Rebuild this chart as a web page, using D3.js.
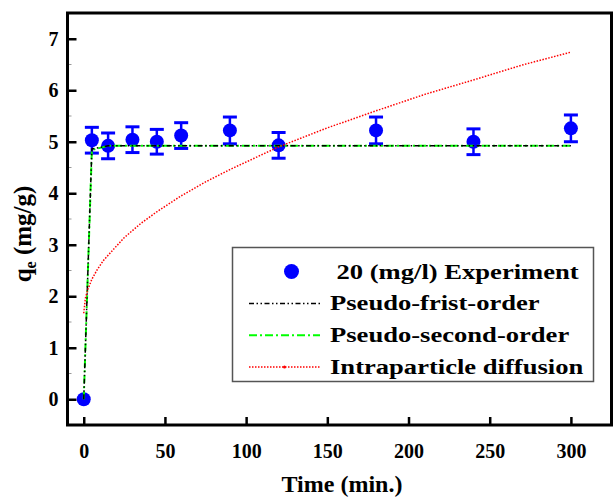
<!DOCTYPE html>
<html>
<head>
<meta charset="utf-8">
<script src="https://cdn.jsdelivr.net/npm/d3@7"></script>
<style>
  body { margin: 0; background: #fff; }
  text { font-family: "Liberation Serif", "Times New Roman", serif; font-weight: bold; fill: #000; }
</style>
</head>
<body>
<div id="chart"></div>
<script>
// frame size
const FRAME_WIDTH = 613;
const FRAME_HEIGHT = 497;
const PLOT = {left: 67.5, right: 611.5, top: 13, bottom: 425};

// experiment data
const TIMES = [0, 5, 15, 30, 45, 60, 90, 120, 180, 240, 300];
const QE_EXP = [0, 5.03, 4.92, 5.04, 5.0, 5.12, 5.22, 4.93, 5.22, 5.0, 5.26];
const QE_ERR = [0, 0.25, 0.25, 0.25, 0.24, 0.25, 0.26, 0.25, 0.26, 0.25, 0.26];

// model fits
const FIRST_ORDER = [0, 4.86, 4.92, 4.92, 4.92, 4.92, 4.92, 4.92, 4.92, 4.92, 4.92];
const SECOND_ORDER = [0, 4.84, 4.92, 4.92, 4.92, 4.92, 4.92, 4.92, 4.92, 4.92, 4.92];
const DIFF_TIMES = [0, 1, 2.5, 5, 8, 12, 18, 25, 35, 45, 60, 75, 90, 105, 120, 150, 180, 210, 240, 270, 300];
const DIFF_QE = [1.67, 1.96, 2.13, 2.33, 2.5, 2.69, 2.9, 3.14, 3.41, 3.64, 3.95, 4.22, 4.46, 4.68, 4.9, 5.27, 5.6, 5.92, 6.2, 6.49, 6.74];

// axis ticks
const X_TICKS = [0, 50, 100, 150, 200, 250, 300];
const Y_TICKS = [0, 1, 2, 3, 4, 5, 6, 7];
const Y_MINOR = [-0.5, 0.5, 1.5, 2.5, 3.5, 4.5, 5.5, 6.5, 7.5];

const LEGEND = ["20 (mg/l) Experiment", "Pseudo-frist-order", "Pseudo-second-order", "Intraparticle diffusion"];

const svg = d3.select("#chart")
  .append("svg")
    .attr("width", FRAME_WIDTH)
    .attr("height", FRAME_HEIGHT);

const x = d3.scaleLinear().domain([-10, 325]).range([PLOT.left, PLOT.right]);
const y = d3.scaleLinear().domain([-0.5, 7.5]).range([PLOT.bottom, PLOT.top]);

// x axis: ticks point inward
const xAxis = svg.append("g")
  .attr("transform", "translate(0," + PLOT.bottom + ")")
  .call(d3.axisBottom(x).tickValues(X_TICKS).tickSize(-8).tickPadding(19).tickFormat(d3.format("d")));
xAxis.select(".domain").remove();
xAxis.selectAll(".tick line").attr("stroke", "#000").attr("stroke-width", 2.5);
xAxis.selectAll(".tick text")
  .attr("font-size", 20)
  .attr("font-family", null)
  .attr("fill", null);

// y axis: ticks point inward
const yAxis = svg.append("g")
  .attr("transform", "translate(" + PLOT.left + ",0)")
  .call(d3.axisLeft(y).tickValues(Y_TICKS).tickSize(-9).tickPadding(9).tickFormat(d3.format("d")));
yAxis.select(".domain").remove();
yAxis.selectAll(".tick line").attr("stroke", "#000").attr("stroke-width", 2.5);
yAxis.selectAll(".tick text")
  .attr("font-size", 20)
  .attr("font-family", null)
  .attr("fill", null);

// minor y ticks
svg.append("g")
  .selectAll("line")
  .data(Y_MINOR)
  .enter()
  .append("line")
    .attr("x1", PLOT.left)
    .attr("x2", PLOT.left + 4)
    .attr("y1", (d) => y(d))
    .attr("y2", (d) => y(d))
    .attr("stroke", "#999")
    .attr("stroke-width", 1);

// frame
svg.append("rect")
  .attr("x", PLOT.left)
  .attr("y", PLOT.top)
  .attr("width", PLOT.right - PLOT.left)
  .attr("height", PLOT.bottom - PLOT.top)
  .attr("fill", "none")
  .attr("stroke", "#000")
  .attr("stroke-width", 3);

// experiment points with error bars
const pts = svg.append("g")
  .selectAll("g")
  .data(TIMES.map((t, i) => ({t: t, q: QE_EXP[i], e: QE_ERR[i]})))
  .enter()
  .append("g")
    .attr("fill", "#0000ff")
    .attr("stroke", "#0000ff");

pts.filter((d) => d.e > 0).append("line")
  .attr("x1", (d) => x(d.t)).attr("x2", (d) => x(d.t))
  .attr("y1", (d) => y(d.q - d.e)).attr("y2", (d) => y(d.q + d.e))
  .attr("stroke-width", 2.5);
pts.filter((d) => d.e > 0).append("line")
  .attr("x1", (d) => x(d.t) - 7).attr("x2", (d) => x(d.t) + 7)
  .attr("y1", (d) => y(d.q + d.e)).attr("y2", (d) => y(d.q + d.e))
  .attr("stroke-width", 3);
pts.filter((d) => d.e > 0).append("line")
  .attr("x1", (d) => x(d.t) - 7).attr("x2", (d) => x(d.t) + 7)
  .attr("y1", (d) => y(d.q - d.e)).attr("y2", (d) => y(d.q - d.e))
  .attr("stroke-width", 3);
pts.append("circle")
  .attr("cx", (d) => x(d.t))
  .attr("cy", (d) => y(d.q))
  .attr("r", 7)
  .attr("stroke", "none");

// model lines
const line = d3.line().x((d) => x(d[0])).y((d) => y(d[1]));

const STYLES = [
  {color: "#000", width: 1.5, dash: "5,2.5,1.5,2.5,1.5,2.5"},
  {color: "#00ff00", width: 2, dash: "8,3,2,3"},
  {color: "#ff0000", width: 1.5, dash: "1.5,1.5"}
];

svg.append("path")
  .attr("d", line(TIMES.map((t, i) => [t, SECOND_ORDER[i]])))
  .attr("fill", "none")
  .attr("stroke", STYLES[1].color)
  .attr("stroke-width", STYLES[1].width)
  .attr("stroke-dasharray", STYLES[1].dash);

svg.append("path")
  .attr("d", line(TIMES.map((t, i) => [t, FIRST_ORDER[i]])))
  .attr("fill", "none")
  .attr("stroke", STYLES[0].color)
  .attr("stroke-width", STYLES[0].width)
  .attr("stroke-dasharray", STYLES[0].dash);

svg.append("path")
  .attr("d", line(DIFF_TIMES.map((t, i) => [t, DIFF_QE[i]])))
  .attr("fill", "none")
  .attr("stroke", STYLES[2].color)
  .attr("stroke-width", STYLES[2].width)
  .attr("stroke-dasharray", STYLES[2].dash);

// axis titles
svg.append("text")
  .attr("x", 342)
  .attr("y", 492)
  .attr("text-anchor", "middle")
  .attr("font-size", 24)
  .text("Time (min.)");

const yTitle = svg.append("text")
  .attr("transform", "translate(31,234) rotate(-90)")
  .attr("text-anchor", "middle")
  .attr("font-size", 25);
yTitle.append("tspan").text("q");
yTitle.append("tspan").attr("font-size", 16).attr("dy", 5).text("e");
yTitle.append("tspan").attr("dy", -5).text(" (mg/g)");

// legend
const legend = svg.append("g");
legend.append("rect")
  .attr("x", 232.5).attr("y", 247.5)
  .attr("width", 361).attr("height", 134)
  .attr("fill", "#fff")
  .attr("stroke", "#555")
  .attr("stroke-width", 1.5);

legend.append("circle")
  .attr("cx", 291.5).attr("cy", 271.5).attr("r", 7.5)
  .attr("fill", "#0000ff");

STYLES.forEach((s, i) => {
  const ly = 303.5 + i * 31.7;
  legend.append("line")
    .attr("x1", 249).attr("x2", 320)
    .attr("y1", ly).attr("y2", ly)
    .attr("stroke", s.color)
    .attr("stroke-width", s.width)
    .attr("stroke-dasharray", s.dash);
});
// small marker on the diffusion legend line
legend.append("circle")
  .attr("cx", 284.5).attr("cy", 303.5 + 2 * 31.7).attr("r", 1.5)
  .attr("fill", "#ff0000");

LEGEND.forEach((t, i) => {
  const tx = i === 0 ? 336.5 : 330;
  legend.append("text")
    .attr("transform", "translate(" + tx + "," + (278.5 + i * 31.7) + ") scale(1.33,1)")
    .attr("font-size", 20)
    .text(t);
});
</script>
</body>
</html>
